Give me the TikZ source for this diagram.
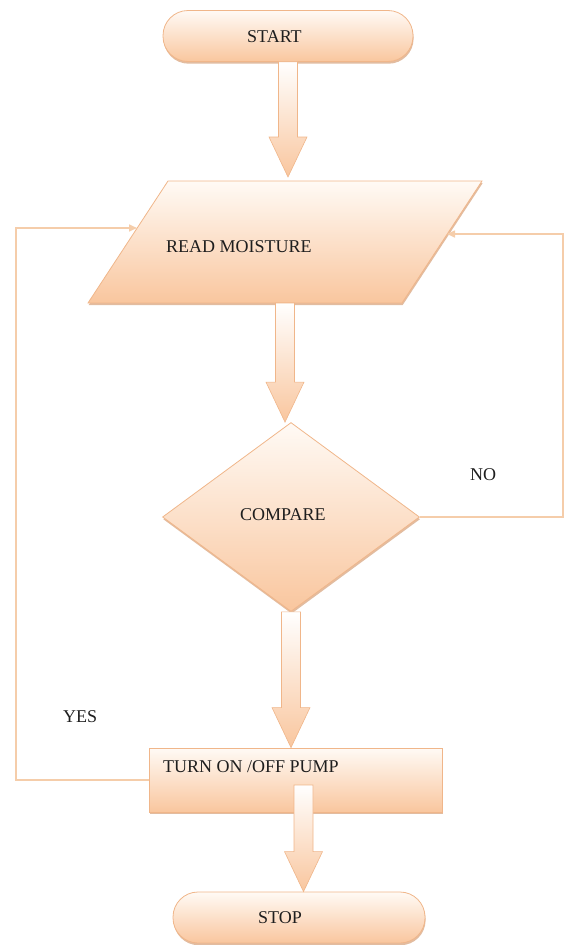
\documentclass[tikz,border=0pt]{standalone}
\usepackage{fontspec}
\setmainfont{Liberation Serif}
\usetikzlibrary{shapes.geometric,arrows.meta,calc,shadows}

\definecolor{peach}{RGB}{249,198,158}
\definecolor{peachlight}{RGB}{255,250,245}
\definecolor{peachline}{RGB}{245,205,170}
\definecolor{peachedge}{RGB}{240,182,138}
\definecolor{shadowbrown}{RGB}{214,160,120}
\definecolor{textgray}{RGB}{30,30,30}

\tikzset{
  box/.style={draw=peachedge, line width=0.8pt, top color=peachlight, bottom color=peach,
    drop shadow={shadow xshift=0.6pt, shadow yshift=-2.2pt, fill=shadowbrown, opacity=0.7}},
  txt/.style={font=\fontsize{18}{20}\selectfont, text=textgray, inner sep=0pt, anchor=west},
  loopline/.style={draw=peachline, line width=1.6pt, -{Triangle[length=8pt,width=7pt]}},
  fat/.style={draw=peachedge, line width=0.6pt, top color=white, bottom color=peach,
    to path={let \p1=(\tikztostart), \p2=(\tikztotarget) in
      (\x1-9.5pt,\y1) -- (\x1+9.5pt,\y1) -- (\x1+9.5pt,\y2+40pt) -- (\x1+19pt,\y2+40pt)
      -- (\x1,\y2) -- (\x1-19pt,\y2+40pt) -- (\x1-9.5pt,\y2+40pt) -- cycle}}
}

\begin{document}
\begin{tikzpicture}[x=1pt,y=-1pt]
\useasboundingbox (0,0) rectangle (564,945);

% Coordinates of the parallelogram
\coordinate (rBL) at (88,303);
\coordinate (rTL) at (168,181);
\coordinate (rTR) at (482,181);
\coordinate (rBR) at (402,303);
\coordinate (readN) at (285,177);
\coordinate (readS) at (285,303);
\coordinate (readW) at (137,228);
\coordinate (readE) at (447,234);

% Shapes
\node[box, rounded corners=25pt, minimum width=250pt, minimum height=51pt] (start) at (288,36) {};
\path[box] (rBL) -- (rTL) -- (rTR) -- (rBR) -- cycle;
\node[box, diamond, minimum width=257pt, minimum height=189pt] (cmp) at (291,517) {};
\node[box, rectangle, minimum width=293pt, minimum height=64pt] (pump) at (295.5,780) {};
\node[box, rounded corners=25pt, minimum width=252pt, minimum height=51pt] (stop) at (299,917.5) {};

% Block arrows down the chart
\path[fat] (start.south) to (readN);
\path[fat] (readS) to (cmp.north);
\path[fat] (cmp.south) to (pump.north);
\path[fat] ([xshift=8pt,yshift=-5pt]pump.center) to (stop.north);

% Feedback lines
\draw[loopline] (pump.west) -| (16,228) -- (readW);
\draw[loopline] (cmp.east) -| (563,234) -- (readE);

% Texts
\node[txt] (startT) at (247,37) {START};
\node[txt] (readT) at (166,247) {READ MOISTURE};
\node[txt] (cmpT) at (240,515) {COMPARE};
\node[txt] (pumpT) at (163,767) {TURN ON /OFF PUMP};
\node[txt] (stopT) at (258,918) {STOP};
\node[txt] (yesT) at (63,717) {YES};
\node[txt] (noT) at (470,475) {NO};
\end{tikzpicture}
\end{document}
